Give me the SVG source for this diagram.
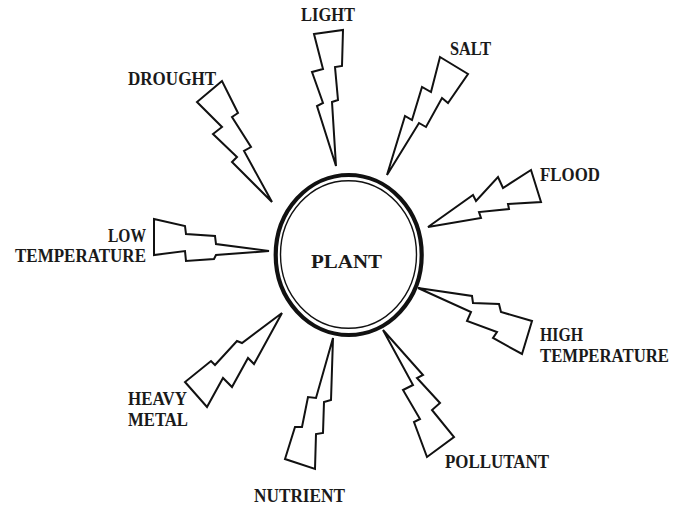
<svg xmlns="http://www.w3.org/2000/svg" width="687" height="518" viewBox="0 0 687 518">
<style>
.bolt{fill:#fff;stroke:#111;stroke-width:2;stroke-linejoin:miter}
.lbl{font-family:"Liberation Serif","Times New Roman",serif;font-weight:bold;font-size:19px;fill:#1a1a1a}
</style>
<rect width="687" height="518" fill="#fff"/>
<g id="connectors">
<polygon id="bolt-light" class="bolt" points="314,34 343,30 342,66 335,67 338,100 332,102 336,166 317,106 323,103 312,72 323,69"/>
<polygon id="bolt-salt" class="bolt" points="440,57 468,74 448,103 442,98 426,127 419,123 387,175 405,116 412,120 422,87 431,92"/>
<polygon id="bolt-drought" class="bolt" points="222,81 197,102 222,127 213,134 237,157 232,162 272,202 244,151 251,147 232,117 238,113"/>
<polygon id="bolt-flood" class="bolt" points="428,227 473,195 476,201 498,177 503,188 531,170 541,202 508,204 509,209 479,212 481,218"/>
<polygon id="bolt-lowtemp" class="bolt" points="154,219 185,226 186,234 215,236 216,244 269,251 216,255 214,259 186,261 185,251 154,255"/>
<polygon id="bolt-hightemp" class="bolt" points="418,288 472,296 473,303 499,304 501,312 532,321 522,354 493,338 497,332 467,321 471,312"/>
<polygon id="bolt-heavymetal" class="bolt" points="282,313 242,343 237,341 215,365 211,361 185,382 207,407 223,378 232,387 248,358 254,364"/>
<polygon id="bolt-nutrient" class="bolt" points="333,338 316,398 308,397 302,427 295,427 285,459 315,469 316,434 323,433 324,402 331,400"/>
<polygon id="bolt-pollutant" class="bolt" points="383,330 413,385 403,390 420,419 414,422 427,457 454,437 432,410 440,403 417,378 423,375"/>
</g>
<g id="plant">
<ellipse cx="348.7" cy="255" rx="73" ry="80" fill="#fff" stroke="#111" stroke-width="4.2"/>
<ellipse cx="348.5" cy="254.5" rx="68" ry="73.8" fill="none" stroke="#111" stroke-width="1.4"/>
<text class="lbl" x="311" y="268" font-size="25" textLength="71" lengthAdjust="spacingAndGlyphs">PLANT</text>
</g>
<g id="light"><text class="lbl" x="301" y="21" textLength="54" lengthAdjust="spacingAndGlyphs">LIGHT</text></g>
<g id="salt"><text class="lbl" x="450" y="55" textLength="41" lengthAdjust="spacingAndGlyphs">SALT</text></g>
<g id="drought"><text class="lbl" x="128" y="85" textLength="88" lengthAdjust="spacingAndGlyphs">DROUGHT</text></g>
<g id="flood"><text class="lbl" x="540" y="181" textLength="60" lengthAdjust="spacingAndGlyphs">FLOOD</text></g>
<g id="low-temperature">
<text class="lbl" x="108" y="242" textLength="38" lengthAdjust="spacingAndGlyphs">LOW</text>
<text class="lbl" x="15" y="262" textLength="131" lengthAdjust="spacingAndGlyphs">TEMPERATURE</text>
</g>
<g id="high-temperature">
<text class="lbl" x="540" y="341" textLength="43" lengthAdjust="spacingAndGlyphs">HIGH</text>
<text class="lbl" x="540" y="362" textLength="129" lengthAdjust="spacingAndGlyphs">TEMPERATURE</text>
</g>
<g id="heavy-metal">
<text class="lbl" x="128" y="405" textLength="59" lengthAdjust="spacingAndGlyphs">HEAVY</text>
<text class="lbl" x="128" y="426" textLength="60" lengthAdjust="spacingAndGlyphs">METAL</text>
</g>
<g id="nutrient"><text class="lbl" x="254" y="502" textLength="91" lengthAdjust="spacingAndGlyphs">NUTRIENT</text></g>
<g id="pollutant"><text class="lbl" x="445" y="468" textLength="104" lengthAdjust="spacingAndGlyphs">POLLUTANT</text></g>
</svg>
